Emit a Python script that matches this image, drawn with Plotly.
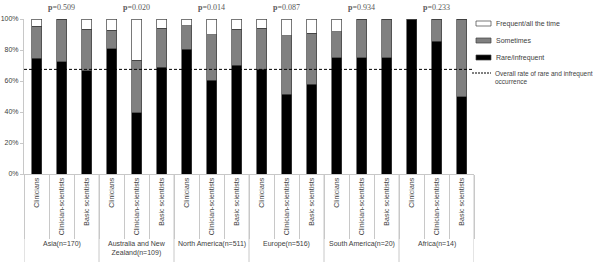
import plotly.graph_objects as go

regions = ["Asia(n=170)", "Australia and New<br>Zealand(n=109)", "North America(n=511)",
           "Europe(n=516)", "South America(n=20)", "Africa(n=14)"]
p_values = ["0.509", "0.020", "0.014", "0.087", "0.934", "0.233"]
roles = ["Clinicians", "Clinician-scientists", "Basic scientists"]

rare = [74.6, 72.3, 66.5, 80.9, 39.6, 69.0, 80.4, 60.6, 70.3, 67.5, 51.6, 57.9, 75.0, 75.0, 75.0, 100.0, 85.7, 50.0]
sometimes = [20.7, 27.7, 27.0, 11.8, 33.7, 25.0, 15.1, 29.1, 23.0, 26.5, 37.6, 32.9, 16.8, 25.0, 25.0, 0.0, 14.3, 50.0]
frequent = [4.7, 0.0, 6.5, 7.3, 26.7, 6.0, 4.5, 10.3, 6.7, 6.0, 10.8, 9.2, 8.2, 0.0, 0.0, 0.0, 0.0, 0.0]
overall_rate = 67.5

series_names = ["Rare/infrequent", "Sometimes", "Frequent/all the time"]
line_name = "Overall rate of rare and infrequent<br>occurrence"

n = len(regions) * len(roles)
xs = list(range(n))
labels = roles * len(regions)

W, H = 600, 267
L, R, T, B = 24, 126, 19, 93
pw, ph = W - L - R, H - T - B

def px_x(p):
    return (p - L) / pw

def px_y(p):
    return (H - B - p) / ph

fig = go.Figure()
colors = ["#000000", "#808080", "#ffffff"]
for name, vals, c in zip(series_names, [rare, sometimes, frequent], colors):
    fig.add_trace(go.Bar(x=xs, y=vals, name=name, marker=dict(color=c, line=dict(color="#404040", width=0.7)),
                         showlegend=False))

fig.add_shape(type="line", xref="x domain", yref="y", x0=0, x1=1, y0=overall_rate, y1=overall_rate,
              line=dict(color="#000000", width=1, dash="3px,2px"))

ng = len(roles)
for g in range(len(regions) + 1):
    xb = g * ng - 0.5
    fig.add_shape(type="line", xref="x", yref="paper", x0=xb, x1=xb, y0=0, y1=px_y(262),
                  line=dict(color="#c8c8c8", width=1))

for g, (reg, pv) in enumerate(zip(regions, p_values)):
    xc = g * ng + (ng - 1) / 2
    fig.add_annotation(x=xc, xref="x", y=px_y(238), yref="paper", yanchor="top", text=reg,
                       showarrow=False, font=dict(family="Liberation Sans", size=7, color="#404040"))
    fig.add_annotation(x=xc, xref="x", y=px_y(8), yref="paper", yanchor="middle",
                       text="<b>p</b>=" + pv, showarrow=False,
                       font=dict(family="Liberation Serif", size=8, color="#595959"))

legend_items = [(series_names[2], "#ffffff", 23.5), (series_names[1], "#808080", 40.5), (series_names[0], "#000000", 57.5)]
for name, c, yc in legend_items:
    fig.add_shape(type="rect", xref="paper", yref="paper", x0=px_x(476), x1=px_x(491),
                  y0=px_y(yc + 2.5), y1=px_y(yc - 2.5), fillcolor=c, line=dict(color="#404040", width=0.7))
    fig.add_annotation(x=px_x(494), xref="paper", y=px_y(yc), yref="paper", xanchor="left", yanchor="middle",
                       text=name, showarrow=False, font=dict(family="Liberation Sans", size=7, color="#404040"))
fig.add_shape(type="line", xref="paper", yref="paper", x0=px_x(472), x1=px_x(491), y0=px_y(73), y1=px_y(73),
              line=dict(color="#000000", width=1, dash="2px,1px"))
fig.add_annotation(x=px_x(493), xref="paper", y=px_y(68), yref="paper", xanchor="left", yanchor="top",
                   align="left", text=line_name, showarrow=False,
                   font=dict(family="Liberation Sans", size=6.5, color="#404040"))

fig.update_layout(
    width=W, height=H, margin=dict(l=L, r=R, t=T, b=B, pad=0, autoexpand=False),
    barmode="stack", bargap=0.6,
    plot_bgcolor="white", paper_bgcolor="white", showlegend=False,
)
fig.update_xaxes(range=[-0.5, n - 0.5], tickmode="array", tickvals=xs, ticktext=labels, tickangle=-90,
                 automargin=False,
                 showgrid=False, zeroline=False, showline=True, linecolor="#c8c8c8", linewidth=1,
                 ticks="", tickfont=dict(family="Liberation Sans", size=7, color="#404040"),
                 minor=dict(tickmode="array", tickvals=[i - 0.5 for i in range(n + 1)], ticks="outside",
                            ticklen=64, tickcolor="#c8c8c8", tickwidth=1, showgrid=False))
fig.update_yaxes(range=[0, 100], tickvals=[0, 20, 40, 60, 80, 100], ticktext=["0%", "20%", "40%", "60%", "80%", "100%"],
                 automargin=False,
                 showgrid=False, zeroline=False, showline=True, linecolor="#c8c8c8", linewidth=1,
                 ticks="outside", ticklen=3, tickcolor="#c8c8c8",
                 tickfont=dict(family="Liberation Sans", size=7, color="#404040"))

fig.write_html("out.html", config={"displayModeBar": False},
               post_script="document.body.style.margin='0';document.body.style.padding='0';")
